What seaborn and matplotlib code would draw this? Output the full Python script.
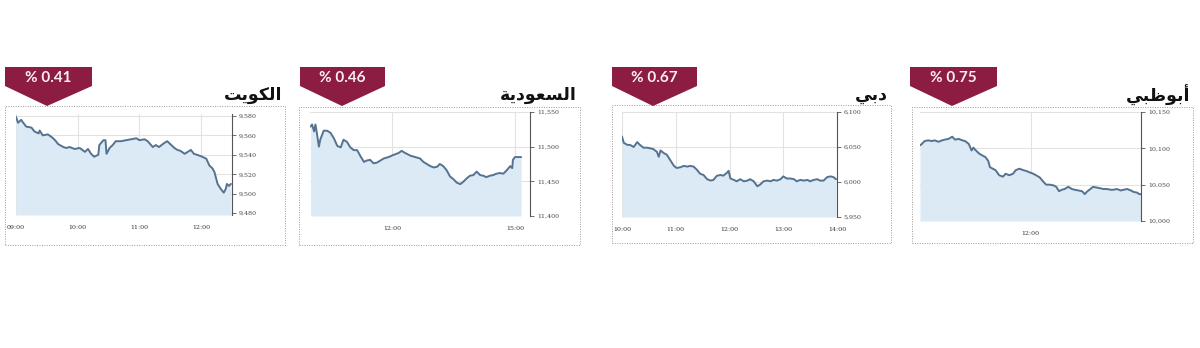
import numpy as np
import pandas as pd
import matplotlib
matplotlib.use("Agg")
import matplotlib.pyplot as plt
import seaborn as sns
from matplotlib.patches import Polygon, Rectangle

sns.set_theme(style="white")
plt.rcParams['font.family'] = ['DejaVu Sans']

# ---------------- data ----------------
market_names = ["الكويت", "السعودية", "دبي", "أبوظبي"]
change_labels = ["% 0.41", "% 0.46", "% 0.67", "% 0.75"]

kuwait_times = ["09:00", "09:02", "09:05", "09:07", "09:10", "09:15", "09:18", "09:22", "09:23", "09:26",
                "09:31", "09:35", "09:38", "09:41", "09:46", "09:49", "09:52", "09:57", "10:02", "10:07",
                "10:10", "10:13", "10:16", "10:20", "10:21", "10:25", "10:27", "10:28", "10:31", "10:34",
                "10:37", "10:42", "10:47", "10:52", "10:57", "11:00", "11:05", "11:08", "11:13", "11:16",
                "11:19", "11:24", "11:27", "11:31", "11:34", "11:37", "11:40", "11:44", "11:47", "11:50",
                "11:53", "11:56", "12:01", "12:05", "12:08", "12:11", "12:13", "12:16", "12:19", "12:22",
                "12:24", "12:25", "12:27", "12:29"]
kuwait_values = [9579, 9573, 9576, 9573, 9569, 9568, 9564, 9562, 9565, 9560,
                 9561, 9558, 9555, 9551, 9548, 9547, 9548, 9546, 9547, 9543,
                 9546, 9541, 9538, 9540, 9550, 9555, 9555, 9541, 9547, 9550,
                 9554, 9554, 9555, 9556, 9557, 9555, 9556, 9554, 9548, 9550,
                 9548, 9552, 9554, 9550, 9547, 9545, 9544, 9541, 9543, 9545,
                 9541, 9540, 9538, 9536, 9529, 9526, 9522, 9510, 9505, 9501,
                 9505, 9510, 9508, 9510]

saudi_times = ["10:01", "10:03", "10:06", "10:08", "10:10", "10:13", "10:15", "10:20", "10:25", "10:30",
               "10:35", "10:40", "10:45", "10:49", "10:54", "10:59", "11:04", "11:09", "11:14", "11:19",
               "11:23", "11:28", "11:33", "11:38", "11:43", "11:48", "11:55", "12:02", "12:10", "12:14",
               "12:19", "12:27", "12:34", "12:41", "12:46", "12:51", "12:56", "13:01", "13:06", "13:10",
               "13:15", "13:20", "13:25", "13:30", "13:35", "13:40", "13:44", "13:49", "13:54", "13:59",
               "14:04", "14:09", "14:14", "14:18", "14:23", "14:28", "14:33", "14:38", "14:43", "14:48",
               "14:53", "14:56", "14:57", "15:00", "15:05", "15:09"]
saudi_values = [11529, 11532, 11522, 11532, 11520, 11500, 11510, 11523, 11523, 11520,
                11512, 11501, 11499, 11510, 11507, 11499, 11495, 11495, 11486, 11478,
                11480, 11481, 11476, 11477, 11480, 11483, 11485, 11488, 11491, 11494,
                11491, 11487, 11485, 11483, 11478, 11475, 11472, 11470, 11471, 11475,
                11472, 11466, 11457, 11453, 11448, 11446, 11449, 11454, 11458, 11459,
                11464, 11459, 11458, 11456, 11458, 11459, 11461, 11462, 11461, 11466,
                11472, 11469, 11481, 11485, 11485, 11485]

dubai_times = ["10:00", "10:02", "10:06", "10:09", "10:13", "10:17", "10:20", "10:24", "10:28", "10:32",
               "10:35", "10:39", "10:41", "10:43", "10:47", "10:50", "10:54", "10:58", "11:01", "11:05",
               "11:09", "11:13", "11:16", "11:20", "11:24", "11:27", "11:31", "11:35", "11:39", "11:42",
               "11:46", "11:50", "11:53", "11:57", "11:59", "12:01", "12:05", "12:08", "12:12", "12:16",
               "12:20", "12:23", "12:27", "12:31", "12:34", "12:38", "12:42", "12:46", "12:49", "12:53",
               "12:57", "13:00", "13:04", "13:08", "13:12", "13:15", "13:19", "13:23", "13:27", "13:30",
               "13:34", "13:38", "13:41", "13:45", "13:49", "13:53", "13:56", "13:59"]
dubai_values = [6065, 6056, 6053, 6053, 6050, 6057, 6053, 6049, 6049, 6048,
                6047, 6043, 6036, 6045, 6041, 6039, 6031, 6023, 6020, 6021,
                6023, 6022, 6023, 6022, 6017, 6012, 6010, 6004, 6002, 6003,
                6009, 6010, 6009, 6013, 6016, 6005, 6003, 6001, 6004, 6001,
                6002, 6004, 6001, 5994, 5996, 6001, 6002, 6001, 6003, 6002,
                6004, 6008, 6005, 6005, 6004, 6001, 6003, 6002, 6003, 6001,
                6003, 6004, 6002, 6002, 6007, 6008, 6007, 6004]

abudhabi_times = ["10:00", "10:02", "10:05", "10:09", "10:13", "10:16", "10:20", "10:24", "10:27", "10:31",
                  "10:35", "10:38", "10:42", "10:46", "10:49", "10:53", "10:56", "10:58", "11:00", "11:04",
                  "11:08", "11:11", "11:14", "11:16", "11:19", "11:22", "11:26", "11:30", "11:33", "11:37",
                  "11:41", "11:44", "11:48", "11:52", "11:55", "11:59", "12:03", "12:06", "12:10", "12:14",
                  "12:17", "12:21", "12:25", "12:28", "12:31", "12:34", "12:37", "12:41", "12:45", "12:48",
                  "12:52", "12:56", "12:59", "13:01", "13:05", "13:08", "13:12", "13:16", "13:19", "13:23",
                  "13:27", "13:30", "13:34", "13:38", "13:41", "13:45", "13:49", "13:52", "13:56", "13:58",
                  "14:00"]
abudhabi_values = [10104, 10106, 10110, 10111, 10110, 10111, 10109, 10111, 10112, 10113,
                   10116, 10112, 10113, 10111, 10110, 10106, 10097, 10101, 10098, 10093,
                   10090, 10088, 10083, 10074, 10072, 10070, 10063, 10061, 10065, 10063,
                   10065, 10070, 10072, 10070, 10069, 10067, 10065, 10063, 10060, 10054,
                   10050, 10050, 10049, 10047, 10041, 10043, 10044, 10047, 10044, 10043,
                   10042, 10041, 10037, 10040, 10044, 10047, 10046, 10045, 10044, 10044,
                   10043, 10043, 10044, 10042, 10043, 10044, 10042, 10040, 10039, 10037,
                   10037]

kuwait_xticks = ["09:00", "10:00", "11:00", "12:00"]
saudi_xticks = ["12:00", "15:00"]
dubai_xticks = ["10:00", "11:00", "12:00", "13:00", "14:00"]
abudhabi_xticks = ["12:00"]

kuwait_yticks = [9480, 9500, 9520, 9540, 9560, 9580]
saudi_yticks = [11400, 11450, 11500, 11550]
dubai_yticks = [5950, 6000, 6050, 6100]
abudhabi_yticks = [10000, 10050, 10100, 10150]

kuwait_xrange = ["09:00", "12:30"]
saudi_xrange = ["10:00", "15:22"]
dubai_xrange = ["10:00", "14:00"]
abudhabi_xrange = ["10:00", "14:00"]

kuwait_yrange = [9478, 9582]
saudi_yrange = [11400, 11550]
dubai_yrange = [5950, 6100]
abudhabi_yrange = [10000, 10150]

# ---------------- minimal Arabic shaping (matplotlib has no RTL/joining) ----------------
FORMS = {  # isolated, final, initial, medial
    "\u0627": ("\uFE8D", "\uFE8E", None, None),
    "\u0623": ("\uFE83", "\uFE84", None, None),
    "\u062F": ("\uFEA9", "\uFEAA", None, None),
    "\u0648": ("\uFEED", "\uFEEE", None, None),
    "\u0629": ("\uFE93", "\uFE94", None, None),
    "\u0644": ("\uFEDD", "\uFEDE", "\uFEDF", "\uFEE0"),
    "\u0643": ("\uFED9", "\uFEDA", "\uFEDB", "\uFEDC"),
    "\u064A": ("\uFEF1", "\uFEF2", "\uFEF3", "\uFEF4"),
    "\u062A": ("\uFE95", "\uFE96", "\uFE97", "\uFE98"),
    "\u0633": ("\uFEB1", "\uFEB2", "\uFEB3", "\uFEB4"),
    "\u0639": ("\uFEC9", "\uFECA", "\uFECB", "\uFECC"),
    "\u0628": ("\uFE8F", "\uFE90", "\uFE91", "\uFE92"),
    "\u0638": ("\uFEC5", "\uFEC6", "\uFEC7", "\uFEC8"),
}


def shape_arabic(word):
    out = []
    n = len(word)
    for i, ch in enumerate(word):
        f = FORMS.get(ch)
        if f is None:
            out.append(ch)
            continue
        dual = f[2] is not None
        prev = FORMS.get(word[i - 1]) if i > 0 else None
        nxt = FORMS.get(word[i + 1]) if i < n - 1 else None
        jp = prev is not None and prev[2] is not None
        jn = dual and nxt is not None
        if jp and jn:
            out.append(f[3])
        elif jp:
            out.append(f[1])
        elif jn:
            out.append(f[2])
        else:
            out.append(f[0])
    return "".join(reversed(out))


def to_hours(ts):
    t = pd.to_datetime(pd.Series(ts), format="%H:%M")
    return (t.dt.hour + t.dt.minute / 60.0).to_numpy()


# ---------------- layout (pixels) ----------------
W, H = 1200, 348
fig = plt.figure(figsize=(W / 100, H / 100), dpi=100)
fig.patch.set_facecolor("white")


def fx(x):
    return x / W


def fy(y):
    return 1 - y / H


panels = [
    dict(times=kuwait_times, values=kuwait_values, xt=kuwait_xticks, yt=kuwait_yticks,
         xr=kuwait_xrange, yr=kuwait_yrange, ax=(16, 114, 232, 215), box=(5, 106, 285, 245),
         badge=(5, 92, 47), title_x=282),
    dict(times=saudi_times, values=saudi_values, xt=saudi_xticks, yt=saudi_yticks,
         xr=saudi_xrange, yr=saudi_yrange, ax=(310, 112, 530, 216), box=(299, 107, 580, 245),
         badge=(300, 385, 342), title_x=577),
    dict(times=dubai_times, values=dubai_values, xt=dubai_xticks, yt=dubai_yticks,
         xr=dubai_xrange, yr=dubai_yrange, ax=(622, 112, 837, 217), box=(612, 105, 891, 243),
         badge=(612, 697, 653), title_x=888),
    dict(times=abudhabi_times, values=abudhabi_values, xt=abudhabi_xticks, yt=abudhabi_yticks,
         xr=abudhabi_xrange, yr=abudhabi_yrange, ax=(920, 112, 1141, 221), box=(912, 107, 1193, 243),
         badge=(910, 997, 952), title_x=1190),
]

LINE = "#557290"
FILL = "#dbeaf5"
BADGE = "#8c1c41"
GRID = "#e4e2de"

for i, p in enumerate(panels):
    # dotted frame
    bx0, by0, bx1, by1 = p["box"]
    fig.patches.append(Rectangle((fx(bx0), fy(by1)), fx(bx1 - bx0), (by1 - by0) / H,
                                 transform=fig.transFigure, fill=False, ls=(0, (1, 1.5)),
                                 lw=0.7, ec="#9a9a9a", zorder=1))
    # badge
    l, r, tip = p["badge"]
    pts = [(l, 67), (r, 67), (r, 86), (tip, 106), (l, 86)]
    fig.patches.append(Polygon([(fx(a), fy(b)) for a, b in pts], closed=True,
                               transform=fig.transFigure, fc=BADGE, ec="none", zorder=3))
    fig.text(fx((l + r) / 2), fy(78), change_labels[i], ha="center", va="center",
             color="#fbeef2", fontsize=11, family=["Lato", "DejaVu Sans"], weight="bold", zorder=4)
    # title
    fig.text(fx(p["title_x"]), fy(95), shape_arabic(market_names[i]), ha="right", va="center",
             color="#111111", fontsize=12.5, family=["DejaVu Sans"], weight="bold")

    # axes
    x0, y0, x1, y1 = p["ax"]
    ax = fig.add_axes([fx(x0), fy(y1), (x1 - x0) / W, (y1 - y0) / H])
    ax.set_facecolor("white")
    df = pd.DataFrame({"time": to_hours(p["times"]), "value": p["values"]})
    ylo, yhi = p["yr"]
    ax.fill_between(df["time"], df["value"], ylo, color=FILL, lw=0, zorder=1)
    sns.lineplot(data=df, x="time", y="value", ax=ax, color=LINE, lw=1.4, zorder=3)
    xr = to_hours(p["xr"])
    ax.set_xlim(xr[0], xr[1])
    ax.set_ylim(ylo, yhi)
    ax.set_xlabel("")
    ax.set_ylabel("")

    ax.set_xticks(to_hours(p["xt"]))
    ax.set_xticklabels(p["xt"])
    ax.set_yticks(p["yt"])
    ax.set_yticklabels([f"{v:,}" for v in p["yt"]])
    ax.yaxis.tick_right()
    ax.tick_params(axis="x", length=0, pad=7, labelsize=4.5, labelcolor="#333333")
    ax.tick_params(axis="y", length=3, width=0.6, color="#555555", pad=2,
                   labelsize=4.5, labelcolor="#444444", direction="out")
    for lab in ax.get_xticklabels() + ax.get_yticklabels():
        lab.set_family("DejaVu Serif")
    ax.grid(True, color=GRID, lw=0.8, zorder=0)
    ax.set_axisbelow(True)
    for s in ["top", "left", "bottom"]:
        ax.spines[s].set_visible(False)
    ax.spines["right"].set_visible(True)
    ax.spines["right"].set_color("#555555")
    ax.spines["right"].set_linewidth(0.8)

fig.savefig("out.png", dpi=100, facecolor="white")
